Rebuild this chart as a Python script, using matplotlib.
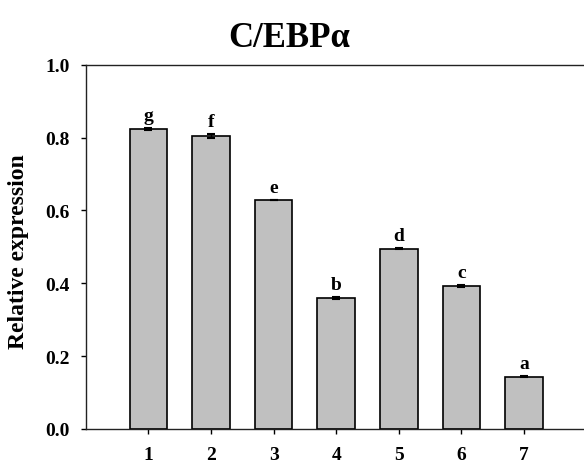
import matplotlib
matplotlib.use('Agg')
import matplotlib.pyplot as plt

groups = ['1', '2', '3', '4', '5', '6', '7']
values = [0.824, 0.805, 0.629, 0.360, 0.495, 0.393, 0.144]
errors = [0.002, 0.006, 0.001, 0.002, 0.001, 0.002, 0.002]
letters = ['g', 'f', 'e', 'b', 'd', 'c', 'a']

plt.rcParams['font.family'] = ['Liberation Serif', 'DejaVu Serif']
plt.rcParams['font.weight'] = 'bold'

fig = plt.figure(figsize=(5.84, 4.64), dpi=100)
ax = fig.add_axes([0.1467, 0.0733, 0.858, 0.785])

x = list(range(1, len(groups) + 1))
ax.bar(x, values, width=0.6, color='#c0c0c0', edgecolor='black', linewidth=1.2,
       yerr=errors, capsize=3, error_kw={'elinewidth': 1, 'capthick': 1.5})

# buchstaben ueber den balken
for xi, v, e, l in zip(x, values, errors, letters):
    ax.text(xi, v + e + 0.022, l, ha='center', va='baseline', fontsize=14, fontweight='bold')

ax.set_xlim(0, 8.0)
ax.set_ylim(0, 1.0)
ax.set_xticks(x)
ax.set_xticklabels(groups)
ax.set_yticks([0, 0.2, 0.4, 0.6, 0.8, 1.0])
ax.set_yticklabels(['0.0', '0.2', '0.4', '0.6', '0.8', '1.0'])
ax.tick_params(direction='out', length=3.6, width=1, labelsize=14)
ax.tick_params(axis='y', pad=8)
ax.tick_params(axis='x', pad=8.5)
for t in ax.get_xticklabels() + ax.get_yticklabels():
    t.set_fontweight('bold')

ax.spines['right'].set_visible(False)
for s in ['left', 'bottom', 'top']:
    ax.spines[s].set_linewidth(1)
    ax.spines[s].set_color('#222222')

ax.set_ylabel('Relative expression', fontsize=17, fontweight='bold')
ax.yaxis.set_label_coords(-0.113, 0.49)
fig.text(0.495, 0.918, 'C/EBPα', ha='center', va='center', fontsize=25, fontweight='bold')

fig.savefig('out.png', dpi=100)
